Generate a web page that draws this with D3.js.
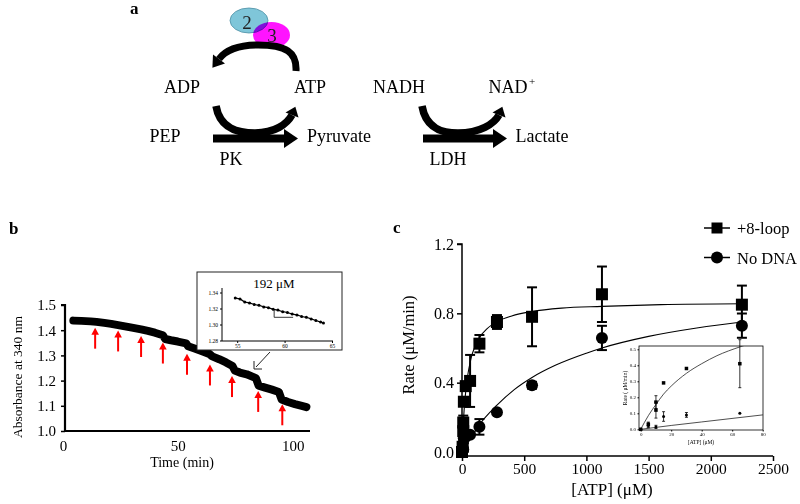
<!DOCTYPE html>
<html>
<head>
<meta charset="utf-8">
<script src="https://cdn.jsdelivr.net/npm/d3@7"></script>
<style>
  body { margin: 0; background: #fff; }
  svg { font-family: "Liberation Serif", "Times New Roman", serif; }
</style>
</head>
<body>
<svg id="fig" width="800" height="504"></svg>
<script>
// ---- panel b: absorbance trace
const absTime = [4.5, 8, 12, 14.6, 18, 21, 24, 27, 30, 34, 37, 40, 43.5, 44.5, 47, 50, 53.6, 54.5, 57, 60, 63.7, 65, 68, 71, 73.8, 74.8, 77, 80, 84, 85.2, 88, 91, 94, 95.2, 98, 101, 104, 106];
const absValue = [1.438, 1.437, 1.435, 1.433, 1.429, 1.425, 1.42, 1.415, 1.41, 1.403, 1.397, 1.39, 1.38, 1.365, 1.36, 1.355, 1.348, 1.336, 1.328, 1.318, 1.306, 1.296, 1.285, 1.272, 1.258, 1.24, 1.232, 1.225, 1.21, 1.18, 1.172, 1.164, 1.155, 1.125, 1.115, 1.107, 1.1, 1.095];
const additionTime = [14, 24, 34, 43.5, 54, 64, 73.6, 85, 95.5];
const additionTip = [1.414, 1.403, 1.381, 1.355, 1.311, 1.268, 1.222, 1.163, 1.11];
const absTicks = [1.0, 1.1, 1.2, 1.3, 1.4, 1.5];
const timeTicks = [0, 50, 100];

// inset of panel b (192 uM addition)
const zoomTime = [54.8, 55.3, 55.8, 56.3, 56.8, 57.3, 57.8, 58.3, 58.8, 59.3, 59.8, 60.3, 60.8, 61.3, 61.8, 62.3, 62.8, 63.3, 63.8, 64.1];
const zoomValue = [1.333, 1.332, 1.328, 1.327, 1.325, 1.324, 1.322, 1.321, 1.319, 1.318, 1.316, 1.315, 1.313, 1.312, 1.310, 1.309, 1.307, 1.305, 1.303, 1.302];
const zoomSlope = [[58.9, 1.318], [58.9, 1.309], [60.9, 1.309]];
const zoomYTicks = [1.28, 1.30, 1.32, 1.34];
const zoomXTicks = [55, 60, 65];

// ---- panel c: rate vs ATP
const loopAtp = [0, 5, 10, 10, 15, 30, 65, 140, 281, 563, 1125, 2250];
const loopRate = [0, 0.03, 0.17, 0.12, 0.29, 0.38, 0.41, 0.625, 0.75, 0.78, 0.91, 0.85];
const loopErr = [0, 0.015, 0.04, 0.05, 0, 0, 0.15, 0.05, 0.04, 0.17, 0.16, 0.11];
const noDnaAtp = [0, 5, 10, 15, 30, 65, 140, 281, 563, 1125, 2250];
const noDnaRate = [0, 0.025, 0.015, 0.08, 0.09, 0.10, 0.145, 0.23, 0.385, 0.658, 0.729];
const noDnaErr = [0, 0.015, 0.01, 0.03, 0.015, 0, 0.045, 0.01, 0.02, 0.07, 0.07];
const loopFitAtp = [0, 5, 10, 15, 20, 30, 40, 50, 65, 80, 100, 140, 200, 290, 400, 560, 800, 1125, 1600, 2250];
const loopFitRate = [0, 0.085, 0.155, 0.22, 0.27, 0.35, 0.41, 0.46, 0.515, 0.56, 0.6, 0.66, 0.71, 0.755, 0.785, 0.81, 0.83, 0.84, 0.85, 0.855];
const noDnaFitAtp = [0, 10, 20, 40, 80, 140, 281, 420, 563, 750, 1000, 1125, 1500, 1900, 2250];
const noDnaFitRate = [0, 0.012, 0.024, 0.046, 0.09, 0.157, 0.27, 0.36, 0.43, 0.5, 0.57, 0.6, 0.667, 0.717, 0.75];
const rateTicks = [0.0, 0.4, 0.8, 1.2];
const atpTicks = [0, 500, 1000, 1500, 2000, 2500];
const insetRateTicks = [0.0, 0.1, 0.2, 0.3, 0.4, 0.5];
const insetAtpTicks = [0, 20, 40, 60, 80];
const seriesNames = ["+8-loop", "No DNA"];

const svg = d3.select("#fig");

function arrowHead(g, x, y, dx, dy, len, half, color) {
  const n = Math.hypot(dx, dy), ux = dx / n, uy = dy / n;
  const px = -uy, py = ux;
  g.append("path")
    .attr("d", `M${x + px * half},${y + py * half}L${x + ux * len},${y + uy * len}L${x - px * half},${y - py * half}Z`)
    .attr("fill", color);
}

// ================= panel a (schematic)
const a = svg.append("g");
a.append("text").attr("x", 130).attr("y", 14).attr("font-weight", "bold").attr("font-size", 17).text("a");

a.append("ellipse").attr("cx", 249).attr("cy", 20.5).attr("rx", 19).attr("ry", 12.5)
  .attr("fill", "#7fc6d9").attr("stroke", "#4b8ea3").attr("stroke-width", 0.8);
a.append("ellipse").attr("cx", 271.5).attr("cy", 35).attr("rx", 18.5).attr("ry", 13)
  .attr("fill", "#ff14ff").style("mix-blend-mode", "multiply");
a.append("text").attr("x", 247).attr("y", 29).attr("text-anchor", "middle").attr("font-size", 19).attr("fill", "#222").text("2");
a.append("text").attr("x", 272).attr("y", 42).attr("text-anchor", "middle").attr("font-size", 19).attr("fill", "#222").text("3");

a.append("path").attr("d", "M296,71 C297,52 286,45 258,45 C237,45 225,51 219,59")
  .attr("stroke", "#000").attr("fill", "none").attr("stroke-width", 7);
arrowHead(a, 219, 59, -6, 8, 11, 7.5, "#000");

const labels = [
  ["ADP", 182, 93], ["ATP", 310, 93], ["NADH", 399, 93], ["NAD", 508, 93],
  ["PEP", 165, 142], ["Pyruvate", 339, 142], ["Lactate", 542, 142],
  ["PK", 231, 165], ["LDH", 448, 165]
];
labels.forEach(([t, x, y]) => {
  a.append("text").attr("x", x).attr("y", y).attr("text-anchor", "middle").attr("font-size", 18).text(t);
});
a.append("text").attr("x", 529).attr("y", 85).attr("font-size", 11).text("+");

// PK reaction
a.append("path").attr("d", "M216,106 C220,129 238,133 255,133 C275,133 287,124 292,115")
  .attr("stroke", "#000").attr("fill", "none").attr("stroke-width", 7.5);
arrowHead(a, 292, 115, 4, -10, 9, 7, "#000");
a.append("rect").attr("x", 213).attr("y", 134.5).attr("width", 72).attr("height", 8).attr("fill", "#000");
arrowHead(a, 284, 138.5, 1, 0, 14, 9.5, "#000");

// LDH reaction
a.append("path").attr("d", "M422,106 C426,129 443,133 458,133 C480,133 494,124 499,115")
  .attr("stroke", "#000").attr("fill", "none").attr("stroke-width", 7.5);
arrowHead(a, 499, 115, 4, -10, 9, 7, "#000");
a.append("rect").attr("x", 423).attr("y", 134.5).attr("width", 71).attr("height", 8).attr("fill", "#000");
arrowHead(a, 493, 138.5, 1, 0, 14, 9.5, "#000");

// ================= panel b
const b = svg.append("g");
b.append("text").attr("x", 9).attr("y", 234).attr("font-weight", "bold").attr("font-size", 17).text("b");

const xB = d3.scaleLinear().domain([0, 108]).range([63, 311]);
const yB = d3.scaleLinear().domain([1.0, 1.5]).range([431, 305]);

const yAxB = b.append("g").attr("transform", "translate(65,0)")
  .call(d3.axisLeft(yB).tickValues(absTicks).tickFormat(d3.format(".1f")).tickSize(4).tickPadding(5));
yAxB.select(".domain").attr("stroke-width", 2.2).attr("d", `M-4,${yB(1.5)}H0V${yB(1.0)}`);
yAxB.selectAll("line").attr("stroke-width", 1.5);
yAxB.selectAll("text").attr("font-size", 15).attr("font-family", "Liberation Serif");

const xAxB = b.append("g").attr("transform", "translate(0,431)")
  .call(d3.axisBottom(xB).tickValues(timeTicks).tickSize(0).tickPadding(9));
xAxB.select(".domain").attr("stroke-width", 2.2).attr("d", "M65,0H310");
xAxB.selectAll("text").attr("font-size", 15).attr("font-family", "Liberation Serif");

b.append("text").attr("x", 182).attr("y", 467).attr("text-anchor", "middle").attr("font-size", 14).text("Time  (min)");
b.append("text").attr("transform", "translate(22,377) rotate(-90)").attr("text-anchor", "middle")
  .attr("font-size", 13.5).text("Absorbance at 340 nm");

const trace = absTime.map((t, i) => [t, absValue[i]]);
b.append("path").datum(trace)
  .attr("d", d3.line().x(d => xB(d[0])).y(d => yB(d[1])))
  .attr("fill", "none").attr("stroke", "#000").attr("stroke-width", 8)
  .attr("stroke-linejoin", "round").attr("stroke-linecap", "round");

additionTime.forEach((t, i) => {
  const x = xB(t), y = yB(additionTip[i]) + 1;
  b.append("line").attr("x1", x).attr("x2", x).attr("y1", y + 5).attr("y2", y + 21)
    .attr("stroke", "#f00").attr("stroke-width", 2);
  arrowHead(b, x, y + 7, 0, -1, 7, 3.8, "#f00");
});

// pointer to inset
b.append("line").attr("x1", 270).attr("y1", 352).attr("x2", 256).attr("y2", 367)
  .attr("stroke", "#222").attr("stroke-width", 1);
b.append("path").attr("d", "M254,361 L254,369 L262,369").attr("fill", "none").attr("stroke", "#222").attr("stroke-width", 1);

// inset box
b.append("rect").attr("x", 197).attr("y", 272).attr("width", 145).attr("height", 78)
  .attr("fill", "#fff").attr("stroke", "#222").attr("stroke-width", 1);
b.append("text").attr("x", 274).attr("y", 288).attr("text-anchor", "middle").attr("font-size", 13).text("192 \u03bcM");

const xI = d3.scaleLinear().domain([53.4, 65]).range([222, 332]);
const yI = d3.scaleLinear().domain([1.28, 1.34]).range([340.5, 292.5]);
const yAxI = b.append("g").attr("transform", "translate(222,0)")
  .call(d3.axisLeft(yI).tickValues(zoomYTicks).tickFormat(d3.format(".2f")).tickSize(2).tickPadding(2));
yAxI.select(".domain").attr("d", `M0,288V341`);
yAxI.selectAll("text").attr("font-size", 5.5).attr("font-family", "Liberation Serif");
const xAxI = b.append("g").attr("transform", "translate(0,341)")
  .call(d3.axisBottom(xI).tickValues(zoomXTicks).tickSize(2).tickPadding(1));
xAxI.select(".domain").attr("d", "M222,0H333");
xAxI.selectAll("text").attr("font-size", 5.5).attr("font-family", "Liberation Serif");

const zoomPts = zoomTime.map((t, i) => [t, zoomValue[i]]);
b.append("path").datum(zoomPts).attr("d", d3.line().x(d => xI(d[0])).y(d => yI(d[1])))
  .attr("fill", "none").attr("stroke", "#000").attr("stroke-width", 1.2);
b.selectAll(".zp").data(zoomPts).enter().append("circle")
  .attr("cx", d => xI(d[0])).attr("cy", d => yI(d[1])).attr("r", 1.5).attr("fill", "#000");
b.append("path").datum(zoomSlope).attr("d", d3.line().x(d => xI(d[0])).y(d => yI(d[1])))
  .attr("fill", "none").attr("stroke", "#000").attr("stroke-width", 0.8);

// ================= panel c
const c = svg.append("g");
c.append("text").attr("x", 393).attr("y", 233).attr("font-weight", "bold").attr("font-size", 17).text("c");

const xC = d3.scaleLinear().domain([0, 2500]).range([462, 773]);
const yC = d3.scaleLinear().domain([0, 1.2]).range([452, 244]);

const yAxC = c.append("g").attr("transform", "translate(462,0)")
  .call(d3.axisLeft(yC).tickValues(rateTicks).tickFormat(d3.format(".1f")).tickSize(5).tickPadding(3));
yAxC.select(".domain").attr("stroke-width", 1.5).attr("d", `M-5,${yC(1.2)}H0V456`);
yAxC.selectAll("line").attr("stroke-width", 1.5);
yAxC.selectAll("text").attr("font-size", 16).attr("font-family", "Liberation Serif");

const xAxC = c.append("g").attr("transform", "translate(0,456)")
  .call(d3.axisBottom(xC).tickValues(atpTicks).tickFormat(d3.format("d")).tickSize(5).tickPadding(2));
xAxC.select(".domain").attr("stroke-width", 1.5).attr("d", `M${xC(0)},0H${xC(2500)}`);
xAxC.selectAll("line").attr("stroke-width", 1.5);
xAxC.selectAll("text").attr("font-size", 15.5).attr("font-family", "Liberation Serif");

c.append("text").attr("x", 612).attr("y", 495).attr("text-anchor", "middle").attr("font-size", 17).text("[ATP] (\u03bcM)");
c.append("text").attr("transform", "translate(414,345) rotate(-90)").attr("text-anchor", "middle")
  .attr("font-size", 16.5).text("Rate  (\u03bcM/min)");

function drawSeries(g, xs, ys, errs, x, y, shape, size, cap, lw) {
  xs.forEach((v, i) => {
    const cx = x(v), cy = y(ys[i]);
    if (errs[i] > 0) {
      const y0 = y(ys[i] - errs[i]), y1 = y(ys[i] + errs[i]);
      g.append("line").attr("x1", cx).attr("x2", cx).attr("y1", y0).attr("y2", y1).attr("stroke", "#000").attr("stroke-width", lw);
      [y0, y1].forEach(yy => g.append("line").attr("x1", cx - cap).attr("x2", cx + cap).attr("y1", yy).attr("y2", yy)
        .attr("stroke", "#000").attr("stroke-width", lw));
    }
    if (shape === "square") {
      g.append("rect").attr("x", cx - size / 2).attr("y", cy - size / 2).attr("width", size).attr("height", size).attr("fill", "#000");
    } else {
      g.append("circle").attr("cx", cx).attr("cy", cy).attr("r", size / 2).attr("fill", "#000");
    }
  });
}

function fitLine(xs, ys, x, y) {
  return d3.line().curve(d3.curveMonotoneX).x(d => x(d[0])).y(d => y(d[1]))(xs.map((v, i) => [v, ys[i]]));
}

c.append("path").attr("d", fitLine(loopFitAtp, loopFitRate, xC, yC)).attr("fill", "none").attr("stroke", "#000").attr("stroke-width", 1.1);
c.append("path").attr("d", fitLine(noDnaFitAtp, noDnaFitRate, xC, yC)).attr("fill", "none").attr("stroke", "#000").attr("stroke-width", 1.1);
drawSeries(c, noDnaAtp, noDnaRate, noDnaErr, xC, yC, "circle", 12, 5, 2);
drawSeries(c, loopAtp, loopRate, loopErr, xC, yC, "square", 12, 5, 2);

// legend
seriesNames.forEach((name, i) => {
  const ly = 228 + i * 29.5;
  c.append("line").attr("x1", 704).attr("x2", 730).attr("y1", ly).attr("y2", ly).attr("stroke", "#000").attr("stroke-width", 1.5);
  if (i === 0) c.append("rect").attr("x", 711.5).attr("y", ly - 5.5).attr("width", 11).attr("height", 11).attr("fill", "#000");
  else c.append("circle").attr("cx", 717).attr("cy", ly).attr("r", 6).attr("fill", "#000");
  c.append("text").attr("x", 737).attr("y", ly + 6).attr("font-size", 16.5).text(name);
});

// inset of panel c
const ins = c.append("g");
ins.append("rect").attr("x", 639).attr("y", 346).attr("width", 124).attr("height", 84)
  .attr("fill", "#fff").attr("stroke", "#000").attr("stroke-width", 0.8);
const xS = d3.scaleLinear().domain([0, 80]).range([640.7, 762.7]);
const yS = d3.scaleLinear().domain([0, 0.5]).range([429.3, 349.3]);
const yAxS = ins.append("g").attr("transform", "translate(639,0)")
  .call(d3.axisLeft(yS).tickValues(insetRateTicks).tickFormat(d3.format(".1f")).tickSize(1.5).tickPadding(1.5));
yAxS.select(".domain").remove();
yAxS.selectAll("text").attr("font-size", 5).attr("font-family", "Liberation Serif");
const xAxS = ins.append("g").attr("transform", "translate(0,430)")
  .call(d3.axisBottom(xS).tickValues(insetAtpTicks).tickSize(1.5).tickPadding(1));
xAxS.select(".domain").remove();
xAxS.selectAll("text").attr("font-size", 5).attr("font-family", "Liberation Serif");
ins.append("text").attr("x", 701).attr("y", 444).attr("text-anchor", "middle").attr("font-size", 5.5).text("[ATP] (\u03bcM)");
ins.append("text").attr("transform", "translate(627,388) rotate(-90)").attr("text-anchor", "middle")
  .attr("font-size", 5.5).text("Rate ( \u03bcM/min)");

svg.append("clipPath").attr("id", "insClip").append("rect").attr("x", 639).attr("y", 346).attr("width", 124).attr("height", 84);
const insPlot = ins.append("g").attr("clip-path", "url(#insClip)");
insPlot.append("path").attr("d", fitLine(loopFitAtp, loopFitRate, xS, yS)).attr("fill", "none").attr("stroke", "#222").attr("stroke-width", 0.8);
insPlot.append("path").attr("d", fitLine(noDnaFitAtp, noDnaFitRate, xS, yS)).attr("fill", "none").attr("stroke", "#222").attr("stroke-width", 0.8);
const insIdx = d => d <= 80;
drawSeries(ins, noDnaAtp.filter(insIdx), noDnaRate.filter((_, i) => insIdx(noDnaAtp[i])), noDnaErr.filter((_, i) => insIdx(noDnaAtp[i])), xS, yS, "circle", 3, 1.5, 0.8);
drawSeries(ins, loopAtp.filter(insIdx), loopRate.filter((_, i) => insIdx(loopAtp[i])), loopErr.filter((_, i) => insIdx(loopAtp[i])), xS, yS, "square", 3.5, 1.5, 0.8);
</script>
</body>
</html>
